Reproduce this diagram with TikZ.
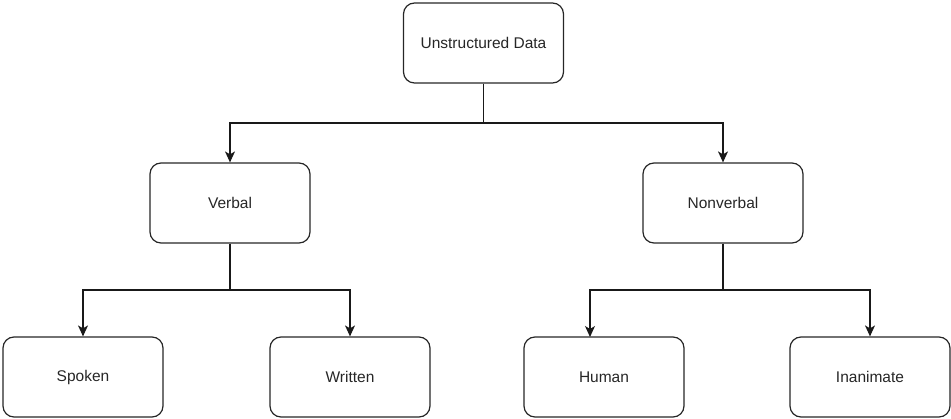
\documentclass[tikz,border=0pt]{standalone}
\usepackage{fontspec}
\setmainfont{Liberation Sans}
\usetikzlibrary{arrows.meta}
\begin{document}
\begin{tikzpicture}[x=1pt,y=-1pt,
  box/.style={draw=black!85, line width=1.2pt, rounded corners=11pt,
    minimum width=160pt, minimum height=80pt, inner sep=0pt,
    font=\fontsize{15.5}{18}\selectfont, text=black!85},
  link/.style={draw=black!90, line width=1.2pt, rounded corners=0pt},
  arr/.style={link, -{Stealth[length=11pt,width=10pt,inset=3pt]}}]
\useasboundingbox (0,0) rectangle (951,419);
\node[box] (root) at (483.5,43) {Unstructured Data};
\node[box] (verbal) at (230,203) {Verbal};
\node[box] (nonverbal) at (723,203) {Nonverbal};
\node[box] (spoken) at (83,377) {Spoken};
\node[box] (written) at (350,377) {Written};
\node[box] (human) at (604,377) {Human};
\node[box] (inanimate) at (870,377) {Inanimate};
% first level
\draw[arr] (root.south) -- (483.5,123) -| (verbal.north);
\draw[arr] (root.south) -- (483.5,123) -| (nonverbal.north);
% second level
\draw[arr] (verbal.south) -- (230,290) -| (spoken.north);
\draw[arr] (verbal.south) -- (230,290) -| (written.north);
\coordinate (hin) at (590,337);
\draw[arr] (nonverbal.south) -- (723,290) -| (hin);
\draw[arr] (nonverbal.south) -- (723,290) -| (inanimate.north);
\end{tikzpicture}
\end{document}
